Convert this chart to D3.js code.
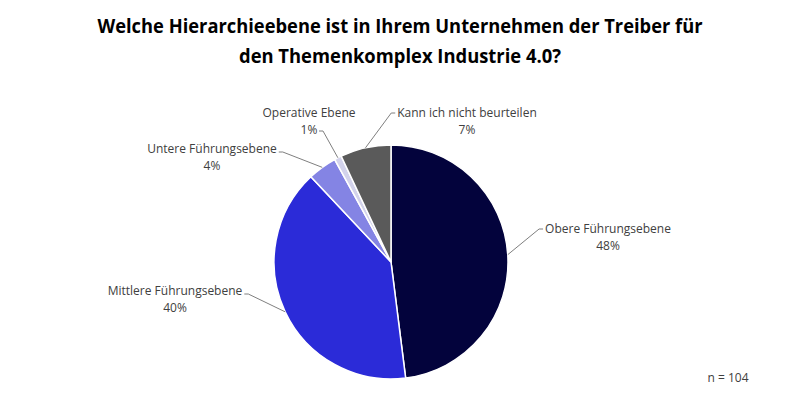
<!DOCTYPE html>
<html>
<head>
<meta charset="utf-8">
<script src="https://cdn.jsdelivr.net/npm/d3@7"></script>
<style>
  body { margin: 0; background: #fff; }
  svg { display: block; }
</style>
</head>
<body>
<svg id="main-svg" width="800" height="413"></svg>
<script>
// chart data
const categories = ["Obere Führungsebene", "Mittlere Führungsebene", "Untere Führungsebene", "Operative Ebene", "Kann ich nicht beurteilen"];
const shares = [48, 40, 4, 1, 7];
const sliceColors = ["#03033c", "#2b2bd8", "#8484e4", "#d3d3ec", "#5a5a5a"];
const titleLines = ["Welche Hierarchieebene ist in Ihrem Unternehmen der Treiber für", "den Themenkomplex Industrie 4.0?"];
const sampleNote = "n = 104";

// where each label sits (center x, baseline of first line) and which side the leader leaves from
const labelLayout = [
    { x: 608, y: 233, side: "left" },
    { x: 175, y: 295, side: "right" },
    { x: 212, y: 153, side: "right" },
    { x: 309, y: 117, side: "right2" },
    { x: 467, y: 117, side: "left" }
];

const width = 800;
const height = 413;
const cx = 391, cy = 262, radius = 117;

const svg = d3.select("#main-svg");

// title
const title = svg.append("text")
    .attr("text-anchor", "middle")
    .attr("font-family", "'Open Sans', sans-serif")
    .attr("font-weight", "bold")
    .attr("font-size", "19px")
    .attr("fill", "#000");
titleLines.forEach((line, i) => {
    title.append("tspan")
        .attr("x", 400)
        .attr("y", 33 + i * 30)
        .text(line);
});
// squeeze title to the width it takes in the original
title.selectAll("tspan").each(function(d, i) {
    const target = i === 0 ? 605 : 322;
    const w = this.getComputedTextLength();
    if (w > target) {
        d3.select(this).attr("textLength", target).attr("lengthAdjust", "spacingAndGlyphs");
    }
});

const pie = d3.pie().sort(null).value(d => d);
const arcs = pie(shares);
const arc = d3.arc().innerRadius(0).outerRadius(radius);

const g = svg.append("g").attr("transform", `translate(${cx},${cy})`);

g.selectAll("path.slice")
    .data(arcs)
    .enter()
    .append("path")
    .attr("class", "slice")
    .attr("d", arc)
    .attr("fill", (d, i) => sliceColors[i])
    .attr("stroke", "#fff")
    .attr("stroke-width", 1.5);

// labels + leader lines
const labelFont = "'Open Sans', sans-serif";
arcs.forEach((a, i) => {
    const lay = labelLayout[i];
    const mid = (a.startAngle + a.endAngle) / 2;
    const px = cx + radius * Math.sin(mid);
    const py = cy - radius * Math.cos(mid);

    const t = svg.append("text")
        .attr("text-anchor", "middle")
        .attr("font-family", labelFont)
        .attr("font-size", "12px")
        .attr("fill", "#404040");
    t.append("tspan").attr("x", lay.x).attr("y", lay.y).text(categories[i]);
    t.append("tspan").attr("x", lay.x).attr("y", lay.y + 17).text(shares[i] + "%");

    // leader start next to the text
    const line1 = t.select("tspan").node().getComputedTextLength();
    let sx, sy;
    if (lay.side === "left") {
        sx = lay.x - line1 / 2 - 2; sy = lay.y - 4;
    } else if (lay.side === "right") {
        sx = lay.x + line1 / 2 + 2; sy = lay.y - 1;
    } else {
        sx = lay.x + 10; sy = lay.y + 14;
    }
    const elbow = lay.side === "left" ? sx - 4 : sx + 4;
    svg.append("polyline")
        .attr("points", `${sx},${sy} ${elbow},${sy} ${px},${py}`)
        .attr("fill", "none")
        .attr("stroke", "#7f7f7f")
        .attr("stroke-width", 1);
});

svg.append("text")
    .attr("x", 728)
    .attr("y", 382)
    .attr("text-anchor", "middle")
    .attr("font-family", labelFont)
    .attr("font-size", "12px")
    .attr("fill", "#404040")
    .text(sampleNote);
</script>
</body>
</html>
